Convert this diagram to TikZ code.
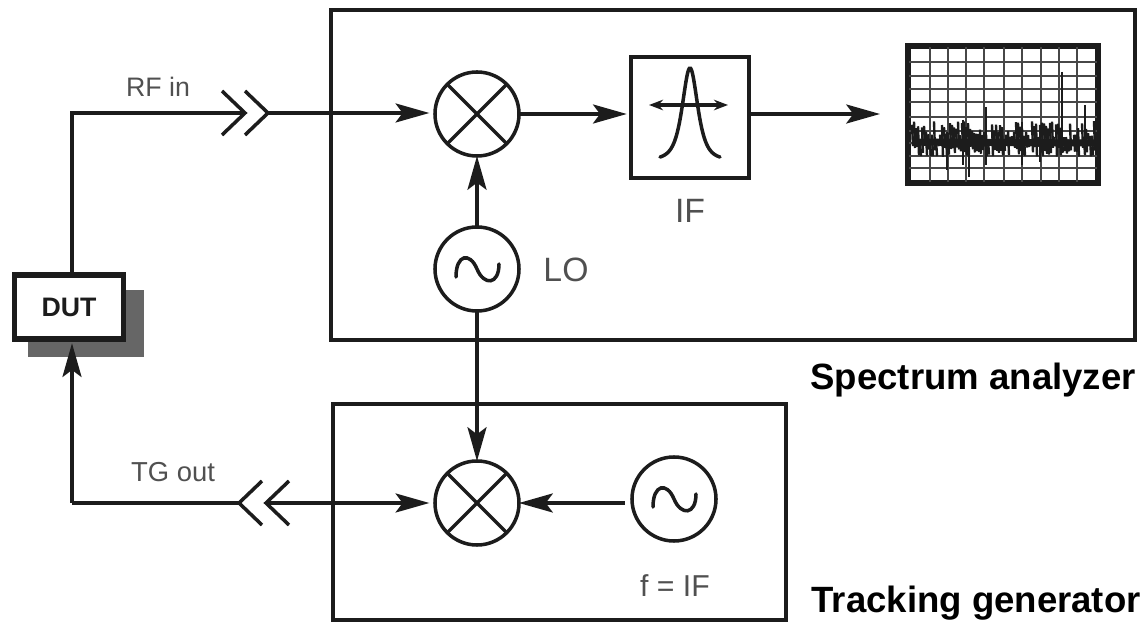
\documentclass[tikz,border=0pt]{standalone}
\usepackage{fontspec}
\setmainfont{Liberation Sans}
\usetikzlibrary{arrows.meta}
\definecolor{inkdark}{HTML}{1C1C1C}
\definecolor{labelgray}{HTML}{505050}
\definecolor{shadowgray}{HTML}{666666}
\tikzset{
  conn/.style={draw=inkdark, line width=2.5pt},
  tipconn/.style={conn, -{Stealth[length=24pt,width=13.5pt,inset=5pt]}},
  framebox/.style={draw=inkdark, line width=2.5pt, inner sep=0pt, outer sep=0pt},
  round/.style={framebox, circle, minimum size=2.1cm},
  lab/.style={text=labelgray, inner sep=0pt},
  biglab/.style={inner sep=0pt, text=black, font=\fontsize{26}{28}\selectfont\bfseries},
}
\newcommand{\sinewave}[1]{\draw[conn, line cap=round, shift={(#1.center)}] (-21,8) .. controls (-21,-15) and (-7,-17) .. (0,0) .. controls (7,17) and (22,16) .. (22,-5);}
\begin{document}
\begin{tikzpicture}[x=0.025cm, y=-0.025cm]
  \useasboundingbox (0,0) rectangle (1147,622);
  % the two cases
  \node[framebox, minimum width=20.1cm, minimum height=8.25cm] (analyzer) at (733,175) {};
  \node[framebox, minimum width=11.325cm, minimum height=5.4cm] (tracking) at (559.5,512) {};
  \node[biglab, anchor=east] (analyzerlab) at (1136,380) {Spectrum analyzer};
  \node[biglab, anchor=east] (trackinglab) at (1141,603) {Tracking generator};
  % DUT with its shadow
  \fill[shadowgray] (28,290) rectangle (144,357);
  \node[framebox, fill=white, line width=3.6pt, minimum width=2.725cm, minimum height=1.6cm, font=\fontsize{19}{21}\selectfont\bfseries, text=inkdark] (dut) at (69,307) {DUT};
  % mixers and oscillators
  \node[round] (mixa) at (477,114) {};
  \node[round] (mixb) at (477,503) {};
  \node[round] (loa) at (477,269) {};
  \node[round] (osc) at (674,499) {};
  \foreach \mix in {mixa,mixb} {
    \draw[conn] (\mix.45) -- (\mix.225);
    \draw[conn] (\mix.135) -- (\mix.315);
  }
  \sinewave{loa}
  \sinewave{osc}
  % IF filter
  \node[framebox, minimum width=2.95cm, minimum height=3.025cm] (iffilter) at (690,117.5) {};
  \draw[conn, line cap=round, domain=-30:30, samples=50, smooth] plot ({690+\x},{160-92/((1+(\x/14)^2)^2)});
  \draw[conn, {Stealth[length=10pt,width=7.5pt]}-{Stealth[length=10pt,width=7.5pt]}] (649,105) -- (728,105);
  % display with grid and noise
  \node[draw=inkdark, line width=4.2pt, inner sep=0pt, outer sep=0pt, minimum width=4.75cm, minimum height=3.425cm] (disp) at (1003,114.5) {};
  \foreach \gx in {930,948,966,984,1004,1022,1041,1059,1077}
    \draw[black!72, line width=2pt] (\gx,47) -- (\gx,182);
  \foreach \gy in {62,76,89,102,117,131,143,156,168}
    \draw[black!72, line width=2pt] (909,\gy) -- (1097,\gy);
  \pgfmathsetseed{4711}
  \foreach \nx in {912,914,...,1096} {
    \pgfmathsetmacro{\nup}{2+rnd*20}
    \pgfmathsetmacro{\ndn}{2+rnd*12}
    \draw[inkdark, line width=1.7pt] (\nx,143-\nup) -- (\nx+1,143+\ndn);
  }
  \draw[inkdark, line width=5pt] (915,142) -- (1095,143);
  \foreach \sx/\stop/\sbot in {1062/72/150,986/107/165,963/120/165,1085/105/150,947/132/170,969/135/177,1022/122/165,1040/125/162}
    \draw[inkdark, line width=2pt] (\sx,\stop) -- (\sx,\sbot);
  % connector points
  \coordinate (rfa) at (245,113);
  \coordinate (rfb) at (268,113);
  \coordinate (tga) at (239,503);
  \coordinate (tgb) at (266,503);
  \coordinate (rfbend) at (72,113);
  \coordinate (tgbend) at (72,503);
  \coordinate (ifout) at (880,114);
  \foreach \tip/\dir in {rfa/-1,rfb/-1,tga/1,tgb/1}
    \draw[conn] (\tip) ++(\dir*23,-22) -- (\tip) -- ++(\dir*23,22);
  % signal path
  \draw[conn] (dut.north -| rfbend) -- (rfbend) -- (rfa);
  \draw[tipconn, shorten >=4pt] (rfb) -- (rfb -| mixa.west);
  \draw[tipconn, shorten >=3pt] (mixa.east) -- (iffilter.west |- mixa.east);
  \draw[tipconn] (iffilter.east |- mixa.east) -- (ifout);
  \draw[tipconn] (loa.north) -- (mixa.south);
  \draw[tipconn] (loa.south) -- (mixb.north);
  \draw[tipconn, shorten >=4pt] (tgb) -- (mixb.west);
  \draw[tipconn, shorten <=5pt] (osc.west |- mixb.east) -- (mixb.east);
  \draw[conn] (tga) -- (tgbend);
  \draw[tipconn, shorten >=3pt] (tgbend) -- (dut.south -| tgbend);
  % labels
  \node[lab, font=\fontsize{19}{21}\selectfont] (rflab) at (158,87) {RF in};
  \node[lab, font=\fontsize{19.5}{21}\selectfont] (tglab) at (173,472) {TG out};
  \node[lab, font=\fontsize{24}{26}\selectfont] (lolab) at (566,270) {LO};
  \node[lab, font=\fontsize{24}{26}\selectfont] (iflab) at (690,211) {IF};
  \node[lab, font=\fontsize{21.5}{24}\selectfont] (freqlab) at (675,586) {f = IF};
\end{tikzpicture}
\end{document}
